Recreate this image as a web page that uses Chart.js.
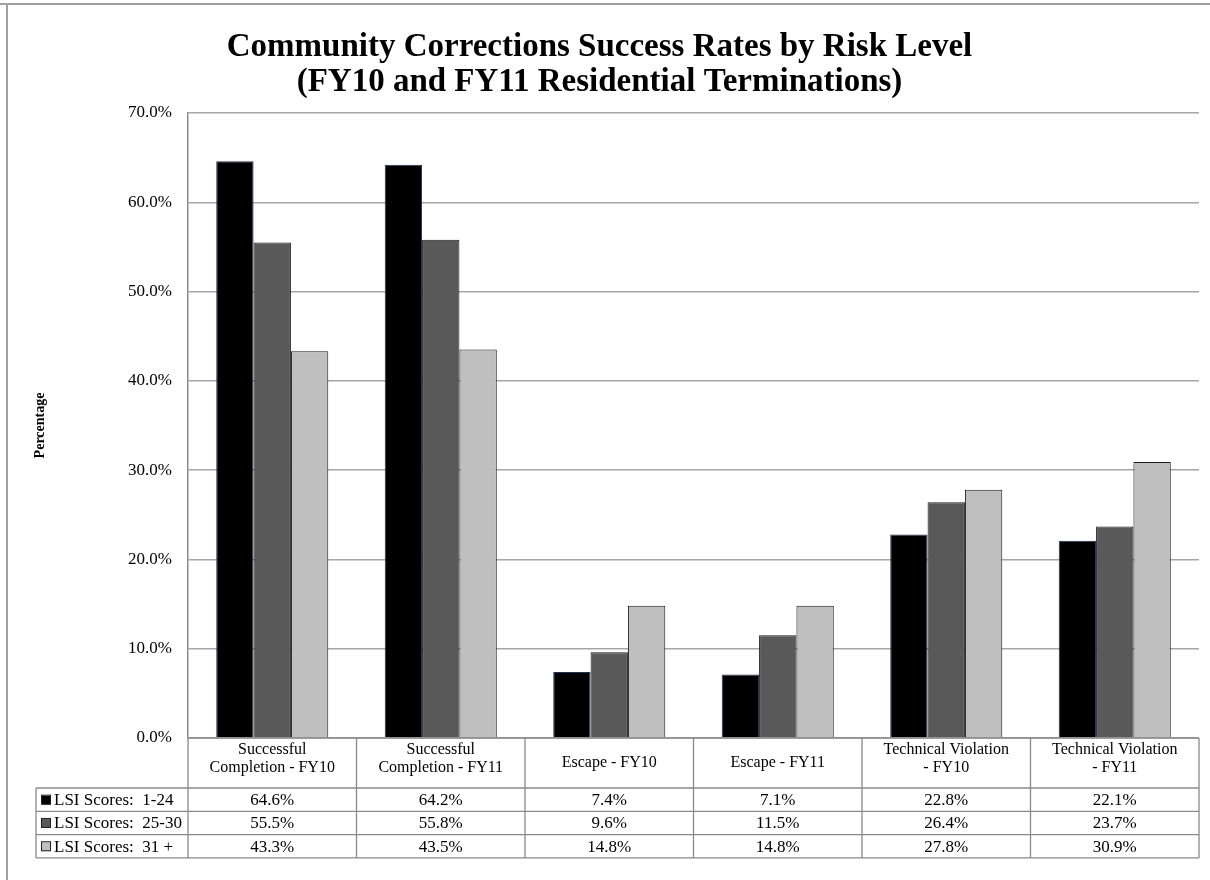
<!DOCTYPE html>
<html>
<head>
<meta charset="utf-8">
<script src="https://cdn.jsdelivr.net/npm/chart.js@4.4.1/dist/chart.umd.min.js"></script>
<style>
  html, body { margin: 0; padding: 0; background: #ffffff; }
  #wrap { width: 1210px; height: 880px; position: relative; }
</style>
</head>
<body>
<div id="wrap"><canvas id="c" width="1210" height="880"></canvas></div>
<script>
// ---- data ----
const categories = [
  ['Successful', 'Completion - FY10'],
  ['Successful', 'Completion - FY11'],
  ['Escape - FY10'],
  ['Escape - FY11'],
  ['Technical Violation', '- FY10'],
  ['Technical Violation', '- FY11']
];
const seriesNames = ['LSI Scores:  1-24', 'LSI Scores:  25-30', 'LSI Scores:  31 +'];
const lsi1to24 = [64.6, 64.2, 7.4, 7.1, 22.8, 22.1];
const lsi25to30 = [55.5, 55.8, 9.6, 11.5, 26.4, 23.7];
const lsi31plus = [43.3, 43.5, 14.8, 14.8, 27.8, 30.9];
const yTicks = [0, 10, 20, 30, 40, 50, 60, 70];
const titleLines = ['Community Corrections Success Rates by Risk Level', '(FY10 and FY11 Residential Terminations)'];
const yAxisTitle = 'Percentage';

const fillColors = ['#000000', '#595959', '#bfbfbf'];
const edgeColors = ['#1f2f4f', '#1a1a1a', '#1a1a1a'];
const FONT = "'Liberation Serif', 'Times New Roman', serif";
Chart.defaults.font.family = FONT;
Chart.defaults.color = '#000';

const seriesValues = [lsi1to24, lsi25to30, lsi31plus];

const frameAndTable = {
  id: 'frameAndTable',
  beforeDraw(chart) {
    const ctx = chart.ctx;
    ctx.save();
    ctx.fillStyle = '#fff';
    ctx.fillRect(0, 0, chart.width, chart.height);
    ctx.strokeStyle = '#a0a0a0';
    ctx.lineWidth = 2;
    ctx.beginPath();
    ctx.moveTo(0, 4); ctx.lineTo(chart.width, 4);
    ctx.moveTo(7, 4); ctx.lineTo(7, chart.height);
    ctx.stroke();
    ctx.restore();
  },
  afterDraw(chart) {
    const ctx = chart.ctx;
    const area = chart.chartArea;
    const x = chart.scales.x;
    const n = categories.length;
    const colW = (area.right - area.left) / n;
    const headTop = area.bottom;
    const headBot = area.bottom + 50;
    const rowH = 23.3;
    const tableLeft = 36;
    const tableBot = headBot + rowH * seriesValues.length;

    ctx.save();
    ctx.strokeStyle = '#8a8a8a';
    ctx.lineWidth = 1.3;
    ctx.beginPath();
    ctx.moveTo(area.left, headTop); ctx.lineTo(area.right, headTop);
    for (let i = 0; i <= n; i++) {
      const xx = area.left + colW * i;
      ctx.moveTo(xx, headTop); ctx.lineTo(xx, tableBot);
    }
    for (let r = 0; r <= seriesValues.length; r++) {
      const yy = headBot + rowH * r;
      ctx.moveTo(tableLeft, yy); ctx.lineTo(area.right, yy);
    }
    ctx.moveTo(tableLeft, headBot); ctx.lineTo(tableLeft, tableBot);
    ctx.stroke();

    // header labels
    ctx.fillStyle = '#000';
    ctx.textAlign = 'center';
    ctx.textBaseline = 'middle';
    ctx.font = '16px ' + FONT;
    for (let i = 0; i < n; i++) {
      const cx = x.getPixelForValue(i);
      const lines = categories[i];
      if (lines.length === 1) {
        ctx.fillText(lines[0], cx, headTop + 25);
      } else {
        lines.forEach((t, k) => ctx.fillText(t, cx, headTop + 12 + k * 18));
      }
    }
    // data rows
    ctx.font = '17px ' + FONT;
    for (let r = 0; r < seriesValues.length; r++) {
      const cy = headBot + rowH * r + rowH / 2 + 1;
      ctx.fillStyle = fillColors[r];
      ctx.fillRect(42, cy - 5, 9, 9);
      ctx.strokeStyle = '#222';
      ctx.lineWidth = 1;
      ctx.strokeRect(41.5, cy - 5.5, 9, 9);
      ctx.fillStyle = '#000';
      ctx.textAlign = 'left';
      ctx.fillText(seriesNames[r], 54, cy);
      ctx.textAlign = 'center';
      for (let i = 0; i < n; i++) {
        ctx.fillText(seriesValues[r][i].toFixed(1) + '%', x.getPixelForValue(i), cy);
      }
    }
    ctx.restore();
  }
};

new Chart(document.getElementById('c'), {
  type: 'bar',
  data: {
    labels: categories.map(c => c.join(' ')),
    datasets: seriesValues.map((vals, i) => ({
      label: seriesNames[i],
      data: vals,
      backgroundColor: fillColors[i],
      borderColor: edgeColors[i],
      borderWidth: 1,
      borderSkipped: 'bottom',
      categoryPercentage: 0.665,
      barPercentage: 1.0
    }))
  },
  options: {
    responsive: false,
    animation: false,
    devicePixelRatio: 1,
    layout: { padding: { left: 0, right: 11, top: 0, bottom: 142 } },
    plugins: {
      legend: { display: false },
      tooltip: { enabled: false },
      title: {
        display: true,
        text: titleLines,
        color: '#000',
        font: { family: FONT, size: 33, weight: 'bold', lineHeight: 1.06 },
        padding: { top: 30, bottom: 13 }
      }
    },
    scales: {
      x: { display: false },
      y: {
        min: 0,
        max: 70,
        afterBuildTicks(scale) { scale.ticks = yTicks.map(v => ({ value: v })); },
        afterFit(scale) { scale.width = 188; },
        ticks: {
          padding: 16,
          color: '#000',
          font: { family: FONT, size: 17 },
          callback: v => Number(v).toFixed(1) + '%'
        },
        grid: { color: '#a6a6a6', lineWidth: 1.5, drawTicks: false },
        border: { display: true, color: '#8a8a8a', width: 1.5 },
        title: {
          display: true,
          text: yAxisTitle,
          color: '#000',
          font: { family: FONT, size: 14, weight: 'bold' },
          padding: { top: 32, bottom: 0 }
        }
      }
    }
  },
  plugins: [frameAndTable]
});
</script>
</body>
</html>
